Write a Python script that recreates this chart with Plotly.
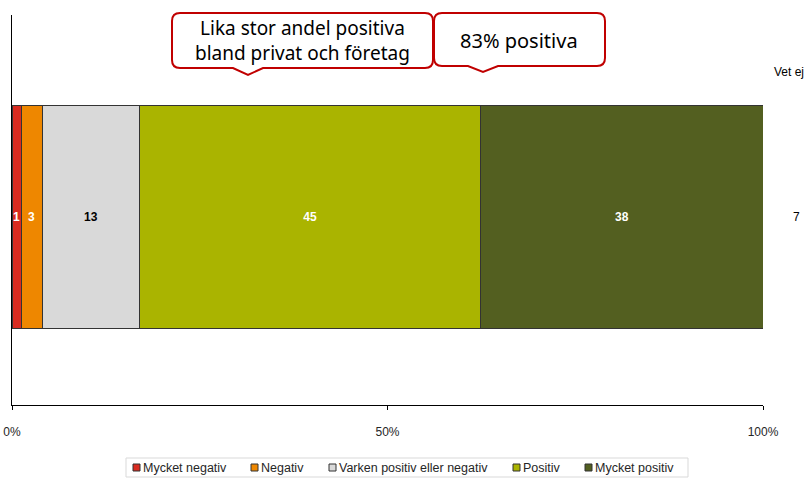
import plotly.graph_objects as go

# data
categories = ['Mycket negativ', 'Negativ', 'Varken positiv eller negativ', 'Positiv', 'Mycket positiv']
shares = [1.2, 2.8, 13.0, 45.4, 37.6]
labels = ['1', '3', '13', '45', '38']
colors = ['#D92B20', '#EE8700', '#D9D9D9', '#AAB400', '#535F20']
label_colors = ['white', 'white', 'black', 'white', 'white']
dont_know_label = 'Vet ej'
dont_know_value = '7'
callout_texts = ['Lika stor andel positiva<br>bland privat och företag', '83% positiva']

# plot area in page pixels
FIG_W, FIG_H = 809, 479
L, R, T, B = 12, 763, 15, 405


def px(x):
    return (x - L) / (R - L)


def py(y):
    return (B - y) / (B - T)


def callout_path(x0, x1, y0, y1, tip_x, tip_y, r=8, half=15):
    # rounded box with a small downward pointer, in paper coords
    pts = [
        ('M', x0 + r, y0), ('L', x1 - r, y0), ('Q', x1, y0, x1, y0 + r),
        ('L', x1, y1 - r), ('Q', x1, y1, x1 - r, y1),
        ('L', tip_x + half, y1), ('L', tip_x, tip_y), ('L', tip_x - half, y1),
        ('L', x0 + r, y1), ('Q', x0, y1, x0, y1 - r),
        ('L', x0, y0 + r), ('Q', x0, y0, x0 + r, y0),
    ]
    out = ''
    for p in pts:
        vals = p[1:]
        coords = [f'{px(vals[i]):.5f},{py(vals[i + 1]):.5f}' for i in range(0, len(vals), 2)]
        out += p[0] + ' '.join(coords) + ' '
    return out + 'Z'


fig = go.Figure()
for i, cat in enumerate(categories):
    fig.add_trace(go.Bar(
        y=[0],
        x=[shares[i]],
        orientation='h',
        name=cat,
        width=1,
        marker=dict(color=colors[i], line=dict(color='#333333', width=1)),
        text=[labels[i]],
        textposition='inside',
        insidetextanchor='middle',
        textangle=0,
        constraintext='none',
        textfont=dict(family='Liberation Sans', size=12, color=label_colors[i], weight='bold'),
        hoverinfo='skip',
        showlegend=False,
    ))

fig.update_layout(
    barmode='stack',
    width=FIG_W, height=FIG_H,
    margin=dict(l=L, r=FIG_W - R, t=T, b=FIG_H - B, pad=0, autoexpand=False),
    plot_bgcolor='white', paper_bgcolor='white',
    font=dict(family='Liberation Sans', size=12, color='black'),
)
fig.update_xaxes(
    range=[0, 100], tickvals=[0, 50, 100], ticktext=['0%', '50%', '100%'],
    showline=True, linecolor='black', linewidth=1, showgrid=False, zeroline=False,
    ticks='outside', ticklen=4, tickcolor='black', ticklabelstandoff=12,
    ticklabeloverflow='allow', tickfont=dict(color='#262626', size=12),
)
fig.update_yaxes(
    range=[-0.845, 0.904], showticklabels=False, showgrid=False, zeroline=False,
    showline=True, linecolor='black', linewidth=1,
)

# callout boxes
fig.add_shape(type='path', xref='paper', yref='paper',
              path=callout_path(172, 433, 13, 68, 248, 75),
              line=dict(color='#C00000', width=2), fillcolor='white')
fig.add_shape(type='path', xref='paper', yref='paper',
              path=callout_path(434, 605, 13, 66, 483, 72),
              line=dict(color='#C00000', width=2), fillcolor='white')
fig.add_annotation(x=px(302), y=py(40.5), xref='paper', yref='paper', text=callout_texts[0],
                   showarrow=False, font=dict(family='Noto Sans', size=19, color='black'),
                   xanchor='center', yanchor='middle')
fig.add_annotation(x=px(519), y=py(40), xref='paper', yref='paper', text=callout_texts[1],
                   showarrow=False, font=dict(family='Noto Sans', size=20, color='black'),
                   xanchor='center', yanchor='middle')

# "Vet ej" outside the bar
fig.add_annotation(x=px(789), y=py(72), xref='paper', yref='paper', text=dont_know_label,
                   showarrow=False, font=dict(size=12), xanchor='center', yanchor='middle')
fig.add_annotation(x=px(796), y=py(217), xref='paper', yref='paper', text=dont_know_value,
                   showarrow=False, font=dict(size=12), xanchor='center', yanchor='middle')

# legend box with small square keys
fig.add_shape(type='rect', xref='paper', yref='paper', x0=px(126), x1=px(688), y0=py(458), y1=py(477),
              line=dict(color='#D9D9D9', width=1), fillcolor='rgba(0,0,0,0)')
key_x = [133, 251, 329, 513, 585]
for cat, col, kx in zip(categories, colors, key_x):
    fig.add_shape(type='rect', xref='paper', yref='paper', x0=px(kx), x1=px(kx + 7),
                  y0=py(464), y1=py(471), line=dict(color='#333333', width=1), fillcolor=col)
    fig.add_annotation(x=px(kx + 8), y=py(467.5), xref='paper', yref='paper', text=cat,
                       showarrow=False, font=dict(size=12.5, color='#262626'),
                       xanchor='left', yanchor='middle')

# page body margin off so the figure sits at the window's top-left corner
fig.write_html('out.html', config={'displayModeBar': False},
               post_script="document.body.style.margin='0';")
